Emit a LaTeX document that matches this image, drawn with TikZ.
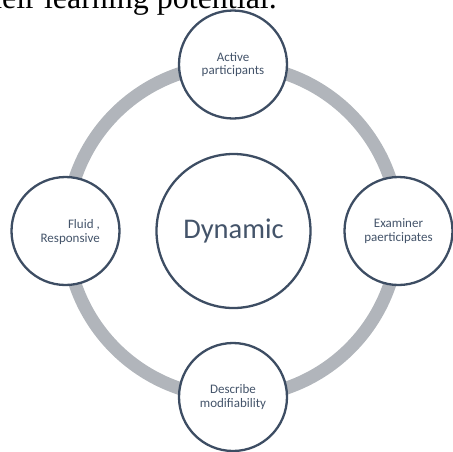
\documentclass[tikz,border=0pt]{standalone}
\usepackage{fontspec}
\setmainfont{Carlito}
\newfontfamily\serifdoc{Liberation Serif}
\definecolor{slatetxt}{HTML}{44546A}
\definecolor{slateline}{HTML}{3D4D63}
\definecolor{ringgray}{HTML}{B1B5BB}
\tikzset{
  bub/.style={circle, draw=slateline, line width=2.3pt, fill=white, inner sep=0pt,
    minimum size=108pt, text=slatetxt, align=center, font=\fontsize{13}{13.5}\selectfont},
  hub/.style={bub, minimum size=154pt, font=\fontsize{28.5}{30}\selectfont},
  ringline/.style={draw=ringgray, line width=13pt}
}
\begin{document}
\begin{tikzpicture}[x=1pt,y=-1pt]
\useasboundingbox (0,0) rectangle (453,451);
\clip (0,0) rectangle (453,451);
\node[anchor=base east, font=\serifdoc\fontsize{32}{34}\selectfont, inner sep=0pt] (head) at (277,8) {their learning potential.};
\coordinate (rc) at (232.5,231);
\draw[ringline] (rc) circle (166);
\node[hub] (dyn) at (233.5,231) {Dynamic};
\node[bub] (top) at (233,64.5) {Active\\participants};
\node[bub] (right) at (398.5,231) {Examiner\\paerticipates};
\node[bub] (bottom) at (233,397) {Describe\\modifiability};
\node[bub] (left) at (65.5,231) {};
\node[anchor=east, text=slatetxt, align=right, inner sep=0pt, font=\fontsize{13}{13.5}\selectfont] (lefttxt) at (100,232) {Fluid ,\\Responsive};
\end{tikzpicture}
\end{document}
